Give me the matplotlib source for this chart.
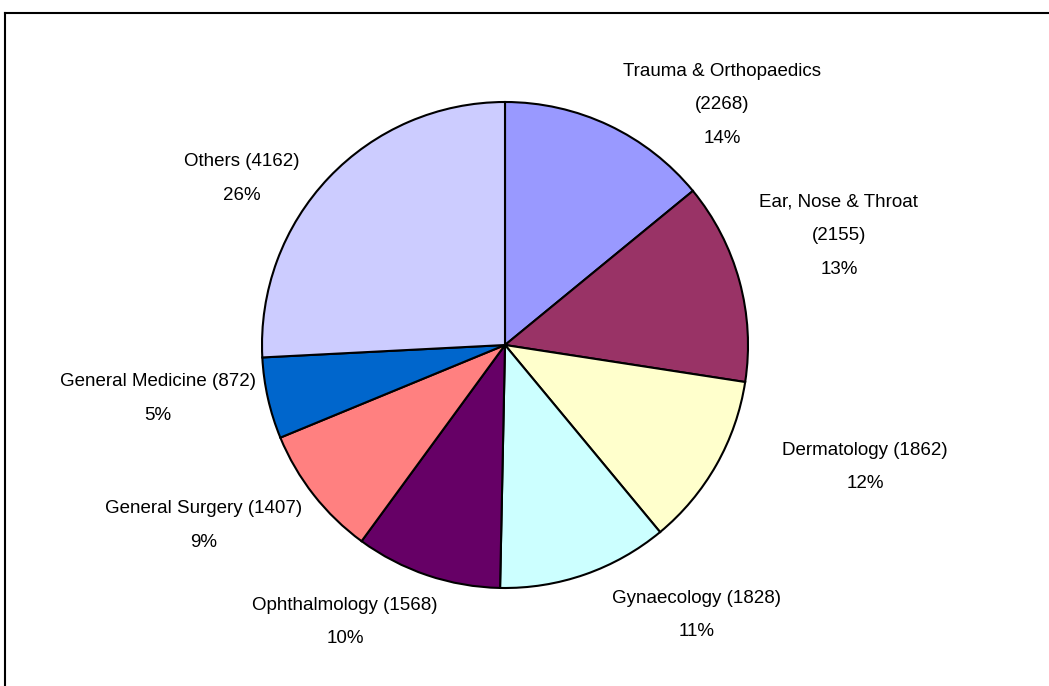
import matplotlib.pyplot as plt

# referrals by specialty
specialties = ["Trauma & Orthopaedics", "Ear, Nose & Throat", "Dermatology", "Gynaecology",
               "Ophthalmology", "General Surgery", "General Medicine", "Others"]
counts = [2268, 2155, 1862, 1828, 1568, 1407, 872, 4162]
colors = ["#9999FF", "#993366", "#FFFFCC", "#CCFFFF", "#660066", "#FF8080", "#0066CC", "#CCCCFF"]

# label centres in units of the pie radius
label_pos = [(0.893, 0.988), (1.374, 0.449), (1.481, -0.502), (0.790, -1.111),
             (-0.658, -1.140), (-1.239, -0.741), (-1.428, -0.222), (-1.082, 0.687)]
# three-line labels for the first two, two lines for the rest
three_line = [True, True, False, False, False, False, False, False]

plt.rcParams['font.family'] = ['Liberation Sans', 'DejaVu Sans']

W, H = 1049, 686
cx, cy, R = 505, 345, 243
fig = plt.figure(figsize=(W/100, H/100), dpi=100)
ax = fig.add_axes([0, 0, 1, 1])

total = sum(counts)
ax.pie(counts, colors=colors, startangle=90, counterclock=False, radius=1,
       wedgeprops=dict(edgecolor="black", linewidth=1.5))

for name, c, (lx, ly), three in zip(specialties, counts, label_pos, three_line):
    pct = round(100*c/total)
    if three:
        txt = name + "\n(" + str(c) + ")\n" + str(pct) + "%"
    else:
        txt = name + " (" + str(c) + ")\n" + str(pct) + "%"
    ax.text(lx, ly, txt, ha="center", va="center", fontsize=13.5, linespacing=2.3, color="black")

ax.set_xlim(-cx/R, (W-cx)/R)
ax.set_ylim(-(H-cy)/R, cy/R)
ax.set_aspect("auto")
ax.axis("off")

# chart border (left and top edges visible)
fig.add_artist(plt.Line2D([4.5/W, 4.5/W], [0, 1-12.5/H], color="black", linewidth=1.5, transform=fig.transFigure))
fig.add_artist(plt.Line2D([4.5/W, 1], [1-12.5/H, 1-12.5/H], color="black", linewidth=1.5, transform=fig.transFigure))

fig.savefig("out.png", dpi=100)
